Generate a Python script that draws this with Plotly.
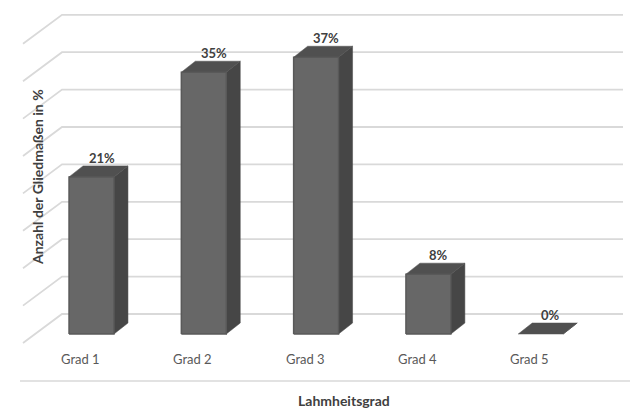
import plotly.graph_objects as go

# ---- data ----
categories = ["Grad 1", "Grad 2", "Grad 3", "Grad 4", "Grad 5"]
values = [21, 35, 37, 8, 0]
value_labels = ["21%", "35%", "37%", "8%", "0%"]
grid_values = [0, 5, 10, 15, 20, 25, 30, 35, 40]
x_title = "Lahmheitsgrad"
y_title = "Anzahl der Gliedmaßen in %"

# ---- layout calibration (pixels) ----
W, H = 644, 408
X0, XS = 91.5, 112.3   # px of category 0 front centre, px per category
Y0, YS = 334.0, 7.48   # px of 0 % at bar front, px per percent
BAR_W = 0.4            # bar width in category units
BDX, BDY = 14 / XS, 11 / YS        # bar depth offset
WDX, WDY = 27 / XS, 20 / YS        # back wall offset
WALL_L, WALL_R = (62 - 27 - X0) / XS, (623 - 27 - X0) / XS
SIDE_DX, SIDE_DY = -39 / XS, -29 / YS

FRONT, SIDE, TOP = "#676767", "#464646", "#505050"

fig = go.Figure()

# back wall + left wall gridlines
gx, gy = [], []
for v in grid_values:
    gx += [WALL_L + SIDE_DX + WDX, WALL_L + WDX, WALL_R + WDX, None]
    gy += [v + WDY + SIDE_DY, v + WDY, v + WDY, None]
fig.add_trace(go.Scatter(x=gx, y=gy, mode="lines",
                         line=dict(color="#d9d9d9", width=1.8),
                         hoverinfo="skip", showlegend=False))

for i, v in enumerate(values):
    l, r = i - BAR_W / 2, i + BAR_W / 2
    # side face
    fig.add_trace(go.Scatter(
        x=[r, r + BDX, r + BDX, r, r], y=[0, BDY, v + BDY, v, 0],
        fill="toself", fillcolor=SIDE, mode="lines",
        line=dict(color=SIDE, width=0.5), hoverinfo="skip", showlegend=False))
    # top face
    fig.add_trace(go.Scatter(
        x=[l, l + BDX, r + BDX, r, l], y=[v, v + BDY, v + BDY, v, v],
        fill="toself", fillcolor=TOP, mode="lines",
        line=dict(color=TOP, width=0.5), hoverinfo="skip", showlegend=False))
    # front face
    if v > 0:
        fig.add_trace(go.Scatter(
            x=[l, r, r, l, l], y=[0, 0, v, v, 0],
            fill="toself", fillcolor=FRONT, mode="lines",
            line=dict(color="#595959", width=1.5), hoverinfo="skip", showlegend=False))

annotations = []
for i, v in enumerate(values):
    annotations.append(dict(x=i + 10 / XS, y=v + BDY, xref="x", yref="y",
                            text=value_labels[i], showarrow=False,
                            xanchor="center", yanchor="bottom", yshift=-2,
                            font=dict(family="Lato", size=13, color="#404040", weight="bold")))
    annotations.append(dict(x=i - 11 / XS, y=(Y0 - 359) / YS, xref="x", yref="y",
                            text=categories[i], showarrow=False,
                            xanchor="center", yanchor="middle",
                            font=dict(family="Lato", size=13, color="#595959")))

annotations.append(dict(x=344 / W, y=1 - 400 / H, xref="paper", yref="paper",
                        text=x_title, showarrow=False, xanchor="center", yanchor="middle",
                        font=dict(family="Lato", size=14, color="#404040", weight="bold")))
annotations.append(dict(x=37 / W, y=1 - 177 / H, xref="paper", yref="paper",
                        text=y_title, showarrow=False, textangle=-90,
                        xanchor="center", yanchor="middle",
                        font=dict(family="Lato", size=14, color="#404040", weight="bold")))

fig.update_layout(
    width=W, height=H,
    margin=dict(l=0, r=0, t=0, b=0),
    paper_bgcolor="white", plot_bgcolor="white",
    showlegend=False,
    xaxis=dict(range=[(0 - X0) / XS, (W - X0) / XS], visible=False, fixedrange=True),
    yaxis=dict(range=[(Y0 - H) / YS, Y0 / YS], visible=False, fixedrange=True),
    annotations=annotations,
    shapes=[dict(type="line", xref="paper", yref="paper",
                 x0=20 / W, x1=630 / W, y0=1 - 381 / H, y1=1 - 381 / H,
                 line=dict(color="#d9d9d9", width=1.5))],
)

fig.write_html("out.html")
